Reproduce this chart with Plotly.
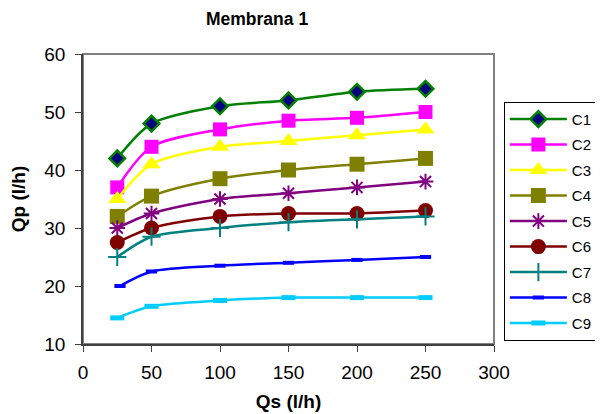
import plotly.graph_objects as go

qs = [25, 50, 100, 150, 200, 250]
qs_c8 = [27, 50, 100, 150, 200, 250]
names = ["C1", "C2", "C3", "C4", "C5", "C6", "C7", "C8", "C9"]
c1 = [42, 48, 51, 52, 53.5, 54]
c2 = [37, 44, 47, 48.5, 49, 50]
c3 = [35, 41, 44, 45, 46, 47]
c4 = [32, 35.5, 38.5, 40, 41, 42]
c5 = [30, 32.5, 35, 36, 37, 38]
c6 = [27.5, 30, 32, 32.5, 32.5, 33]
c7 = [25, 28.5, 30, 31, 31.5, 32]
c8 = [20, 22.5, 23.5, 24, 24.5, 25]
c9 = [14.5, 16.5, 17.5, 18, 18, 18]

series = [c1, c2, c3, c4, c5, c6, c7, c8, c9]
xs = [qs, qs, qs, qs, qs, qs, qs, qs_c8, qs]
line_colors = ["#008000", "#FF00FF", "#FFFF00", "#808000", "#800080",
               "#800000", "#008080", "#0000FF", "#00CCFF"]
markers = [
    dict(symbol="diamond", size=12, color="#000080", line=dict(color="#008000", width=2.5)),
    dict(symbol="square", size=14, color="#FF00FF"),
    dict(symbol="triangle-up", size=16, color="#FFFF00"),
    dict(symbol="square", size=15, color="#808000"),
    dict(symbol="asterisk-open", size=13, color="#800080", line=dict(color="#800080", width=2)),
    dict(symbol="circle", size=15, color="#800000"),
    dict(symbol="cross-thin-open", size=13, color="#008080", line=dict(color="#008080", width=2)),
    dict(symbol="line-ew-open", size=8, color="#0000FF", line=dict(color="#0000FF", width=4)),
    dict(symbol="line-ew-open", size=10, color="#00CCFF", line=dict(color="#00CCFF", width=5)),
]

fig = go.Figure()
for i, (n, y) in enumerate(zip(names, series)):
    fig.add_trace(go.Scatter(
        x=xs[i], y=y, name=n, mode="lines+markers",
        line=dict(color=line_colors[i], width=2.5, shape="spline", smoothing=0.8),
        marker=markers[i], legendgroup=n,
    ))

font = "Liberation Sans, Arial, sans-serif"
fig.update_layout(
    width=595, height=406,
    margin=dict(l=75, r=109, t=46, b=70, autoexpand=False),
    paper_bgcolor="white", plot_bgcolor="white",
    font=dict(family=font, size=19, color="black"),
    showlegend=True,
    legend=dict(x=1.024, y=0.835, xanchor="left", yanchor="top",
                bordercolor="black", borderwidth=1, bgcolor="white",
                font=dict(size=15), traceorder="grouped", tracegroupgap=3,
                itemwidth=57),
    annotations=[dict(text="<b>Membrana 1</b>", x=0.423, y=1.0, xref="paper", yref="paper",
                      yanchor="bottom", yshift=23,
                      showarrow=False, font=dict(size=17.5))],
    shapes=[dict(type="rect", xref="paper", yref="paper", x0=0, y0=0, x1=1, y1=1,
                 line=dict(color="#808080", width=2), layer="below")],
)
fig.update_xaxes(range=[0, 300], dtick=50, showgrid=False, zeroline=False,
                 showline=True, linecolor="#404040", linewidth=1.5,
                 ticks="outside", ticklen=6, tickcolor="#404040",
                 ticklabelstandoff=4,
                 title=dict(text="<b>Qs (l/h)</b>", font=dict(size=19), standoff=13))
fig.update_yaxes(range=[10, 60], dtick=10, showgrid=False, zeroline=False,
                 showline=True, linecolor="#404040", linewidth=1.5,
                 ticks="outside", ticklen=6, tickcolor="#404040",
                 ticklabelstandoff=6,
                 title=dict(text="<b>Qp (l/h)</b>", font=dict(size=19), standoff=16))

fig.write_html("out.html")
